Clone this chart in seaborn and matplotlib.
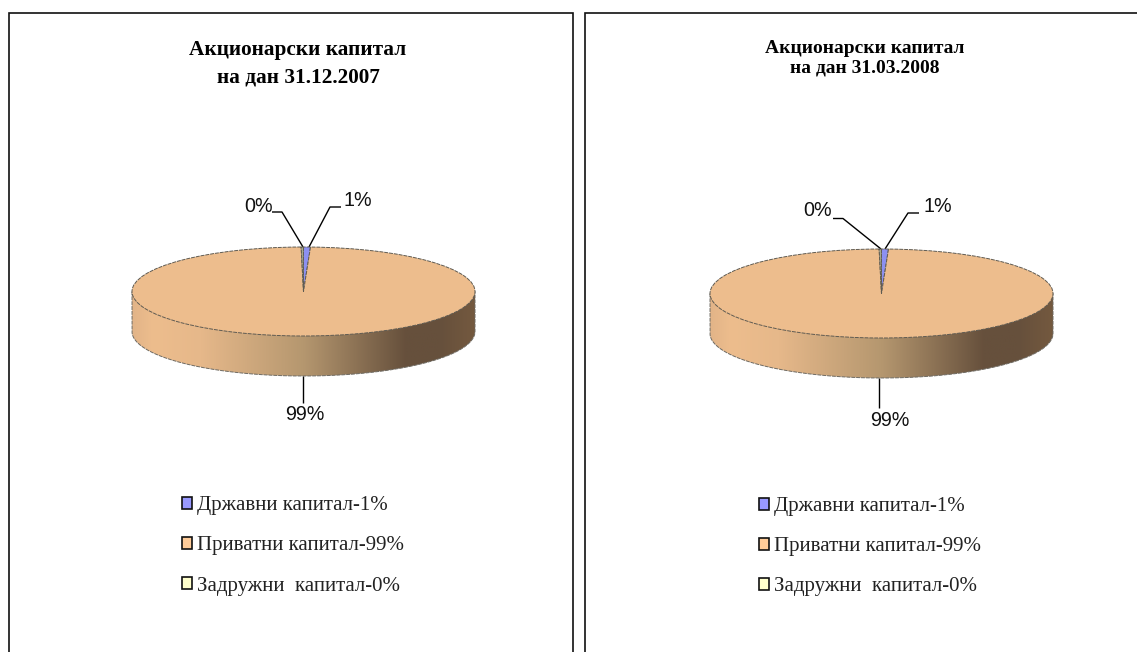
import numpy as np
import matplotlib
matplotlib.use("Agg")
import matplotlib.pyplot as plt
from matplotlib.colors import LinearSegmentedColormap
from matplotlib.patches import PathPatch, Rectangle
from matplotlib.path import Path
import seaborn as sns

categories = ["Државни капитал-1%", "Приватни капитал-99%", "Задружни  капитал-0%"]
shares_2007 = [0.65, 99.13, 0.22]
shares_2008 = [0.65, 99.13, 0.22]
slice_labels = ["1%", "99%", "0%"]
titles = ["Акционарски капитал\nна дан 31.12.2007", "Акционарски капитал\nна дан 31.03.2008"]
pie_colors = ["#8C90F0", "#EDBD8D", "#A5A88C"]
legend_colors = ["#9999FF", "#FFCC99", "#FFFFCC"]

sns.set_theme(style="white")
W, H = 1137, 652
fig = plt.figure(figsize=(W / 100, H / 100), dpi=100, facecolor="white")

bg = fig.add_axes([0, 0, 1, 1], zorder=0)
bg.set_xlim(0, W)
bg.set_ylim(H, 0)
bg.axis("off")

side_cmap = LinearSegmentedColormap.from_list(
    "side", [(0, "#E2B488"), (0.06, "#EDBD8D"), (0.2, "#E6B88A"), (0.5, "#B5976F"),
             (0.8, "#66503C"), (0.9, "#66503C"), (1, "#74593F")])


def add_panel(x0, x1, cx, cy, shares, title, title_xy, title_size, title_ls, leg_x, leg_y, callouts):
    rx, ry, depth = 171.5, 44.5, 40
    # outer frame
    xs = [x0, x0, x1, x1] if x1 < W else [x0, x0, W + 5]
    ys = [H + 5, 12.5, 12.5, H + 5] if x1 < W else [H + 5, 12.5, 12.5]
    bg.plot(xs, ys, color="#111111", lw=1.2, solid_joinstyle="miter")

    # side wall with a horizontal gradient
    th = np.linspace(np.pi, 0, 200)
    px = cx + rx * np.cos(th)
    py = cy + depth + ry * np.sin(th)
    verts = np.vstack([[cx - rx, cy], np.column_stack([px, py]), [cx + rx, cy], [cx - rx, cy]])
    wall = Path(verts)
    im = bg.imshow(np.linspace(0, 1, 256)[None, :], cmap=side_cmap, aspect="auto",
                   extent=[cx - rx, cx + rx, cy + depth + ry, cy], zorder=1)
    bg.set_xlim(0, W)
    bg.set_ylim(H, 0)
    patch = PathPatch(wall, facecolor="none", edgecolor="#6E6A62", lw=0.7, ls=(0, (4, 1)), zorder=2)
    bg.add_patch(patch)
    im.set_clip_path(patch)

    # top face: real pie on an axes squeezed to an ellipse
    ax = fig.add_axes([(cx - rx) / W, 1 - (cy + ry) / H, 2 * rx / W, 2 * ry / H], zorder=2)
    wedges, _ = ax.pie(shares, colors=pie_colors, startangle=90, counterclock=False, radius=1,
                       wedgeprops=dict(edgecolor="#5F5B52", linewidth=0.7, linestyle=(0, (4, 1))))
    ax.set_aspect("auto")
    ax.set_xlim(-1, 1)
    ax.set_ylim(-1, 1)
    ax.patch.set_alpha(0)
    for w in wedges:
        w.set_clip_on(False)

    bg.text(title_xy[0], title_xy[1], title, family="Liberation Serif", fontweight="bold",
            fontsize=title_size, ha="center", va="center", color="#000000",
            linespacing=title_ls, zorder=5)

    # leader lines and percentage labels
    for label, line, pos in callouts:
        lx, ly = zip(*line)
        bg.plot(lx, ly, color="#000000", lw=1.0, zorder=4, solid_capstyle="butt")
        bg.text(pos[0], pos[1], label, family="Liberation Sans", fontsize=14.2,
                ha="center", va="center", color="#111111", zorder=5)

    handles = [Rectangle((0, 0), 1, 1, facecolor=c, edgecolor="#111111", lw=1.2) for c in legend_colors]
    leg = bg.legend(handles, categories, loc="upper left", bbox_transform=bg.transData,
                    bbox_to_anchor=(leg_x, leg_y), frameon=False, handlelength=0.5, handleheight=0.5,
                    handletextpad=0.2, labelspacing=1.02, borderpad=0, borderaxespad=0,
                    prop={"family": "Liberation Serif", "size": 15.0}, labelcolor="#222222")
    leg.set_zorder(6)
    bg.add_artist(leg)
    bg.legend_ = None


add_panel(8.5, 572.5, 303.5, 291.5, shares_2007, titles[0], (298, 63.5), 15.3, 1.52, 182, 496,
          [(slice_labels[0], [(309, 247), (330, 207), (341, 207)], (358, 200)),
           (slice_labels[2], [(303, 247), (282, 212), (272, 212)], (259, 206)),
           (slice_labels[1], [(302.5, 376), (302.5, 403)], (304.5, 414))])
add_panel(585, W + 5, 881.5, 293.5, shares_2008, titles[1], (865, 58.5), 14.0, 1.22, 759, 497,
          [(slice_labels[0], [(885, 249), (908, 213), (919, 213)], (938, 207)),
           (slice_labels[2], [(881, 249), (843, 218.5), (833, 218.5)], (818, 211)),
           (slice_labels[1], [(878.5, 378), (878.5, 408)], (890, 421))])

fig.savefig("out.png", dpi=100)
